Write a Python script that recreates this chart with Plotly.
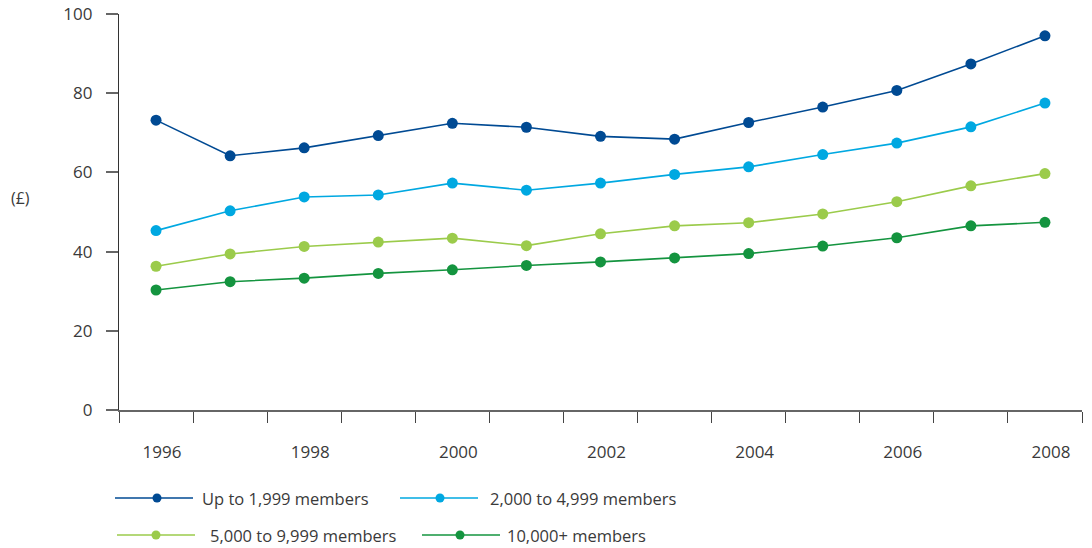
import plotly.graph_objects as go

years = list(range(1996, 2009))
series_names = ["Up to 1,999 members", "2,000 to 4,999 members",
                "5,000 to 9,999 members", "10,000+ members"]
up_to_1999 = [73.2, 64.2, 66.2, 69.3, 72.4, 71.4, 69.1, 68.4, 72.6, 76.5, 80.7, 87.4, 94.5]
from_2000_to_4999 = [45.3, 50.3, 53.8, 54.3, 57.3, 55.5, 57.3, 59.5, 61.4, 64.5, 67.4, 71.5, 77.5]
from_5000_to_9999 = [36.3, 39.4, 41.3, 42.4, 43.4, 41.5, 44.5, 46.5, 47.3, 49.5, 52.6, 56.6, 59.7]
over_10000 = [30.3, 32.4, 33.3, 34.5, 35.4, 36.5, 37.4, 38.4, 39.5, 41.4, 43.5, 46.5, 47.4]
y_ticks = [0, 20, 40, 60, 80, 100]
x_label_years = [1996, 1998, 2000, 2002, 2004, 2006, 2008]

colors = ["#004A93", "#00A8E1", "#9BCB4B", "#14943F"]
all_series = [up_to_1999, from_2000_to_4999, from_5000_to_9999, over_10000]

FONT = "Open Sans"
TXT = "#3a3a3a"

fig = go.Figure()
for name, vals, c in zip(series_names, all_series, colors):
    fig.add_trace(go.Scatter(
        x=years, y=vals, name=name, mode="lines+markers",
        line=dict(color=c, width=1.6),
        marker=dict(color=c, size=11),
        showlegend=False,
    ))

# plot area geometry in pixels
L, R, T, B = 119, 1082, 14, 410
W, H = 1092, 548

def px(x):
    return (x - L) / (R - L)

def py(y):
    return (B - y) / (B - T)

shapes = []
annotations = []
legend_pos = [  # (line start, line end, marker x, text x, y)
    (115, 193, 157, 200, 498),
    (400, 478, 440, 488, 498),
    (117, 195, 156, 208, 535),
    (422, 500, 460, 505, 535),
]
for (x0, x1, mx, tx, yy), name, c in zip(legend_pos, series_names, colors):
    shapes.append(dict(type="line", xref="paper", yref="paper",
                       x0=px(x0), x1=px(x1), y0=py(yy), y1=py(yy),
                       line=dict(color=c, width=1.6)))
    r = 4.5
    shapes.append(dict(type="circle", xref="paper", yref="paper",
                       x0=px(mx - r), x1=px(mx + r), y0=py(yy + r), y1=py(yy - r),
                       fillcolor=c, line=dict(color=c, width=0)))
    annotations.append(dict(text=name, xref="paper", yref="paper",
                            x=px(tx), y=py(yy), xanchor="left", yanchor="middle",
                            showarrow=False, font=dict(family=FONT, size=16.5, color=TXT)))

annotations.append(dict(text="(£)", xref="paper", yref="paper",
                        x=px(20), y=py(198), xanchor="center", yanchor="middle",
                        showarrow=False, font=dict(family=FONT, size=16, color=TXT)))

fig.update_layout(
    width=W, height=H,
    margin=dict(l=L, r=W - R, t=T, b=H - B, autoexpand=False),
    paper_bgcolor="white", plot_bgcolor="white",
    shapes=shapes, annotations=annotations,
    font=dict(family=FONT, size=17, color=TXT),
    xaxis=dict(
        range=[1995.5, 2008.5], automargin=False,
        tickmode="array", tickvals=x_label_years,
        ticktext=[str(v) for v in x_label_years],
        ticks="", showgrid=False, zeroline=False,
        showline=True, linecolor="#666666", linewidth=1.5,
        ticklabelstandoff=26, ticklabelshift=6,
        tickfont=dict(family=FONT, size=17, color=TXT),
        minor=dict(ticks="outside", tick0=1995.5, dtick=1, ticklen=11,
                   tickcolor="#444444", tickwidth=1.3, showgrid=False),
    ),
    yaxis=dict(
        range=[0, 100], tickmode="array", tickvals=y_ticks, automargin=False,
        ticks="outside", ticklen=12, tickcolor="#666666", tickwidth=1.5,
        showgrid=False, zeroline=False,
        showline=True, linecolor="#333333", linewidth=1.3,
        ticklabelstandoff=10,
        tickfont=dict(family=FONT, size=17, color=TXT),
    ),
)

fig.write_html("out.html")
